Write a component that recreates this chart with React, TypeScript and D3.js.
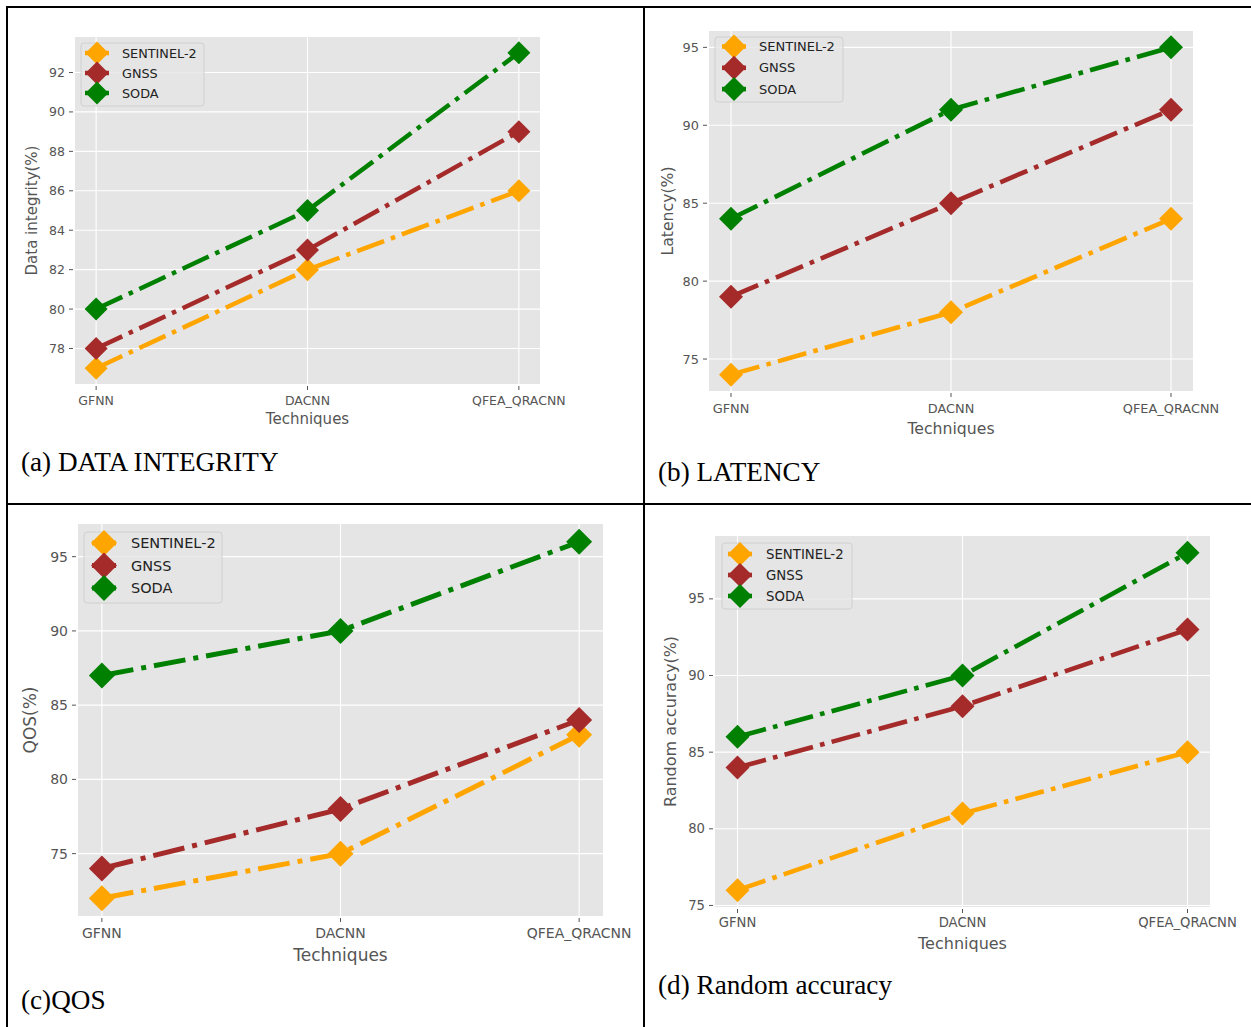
import React from 'react'
import * as d3 from 'd3'

// categories on the x axis, shared by every panel
const categories = ['GFNN', 'DACNN', 'QFEA_QRACNN']
const seriesNames = ['SENTINEL-2', 'GNSS', 'SODA']
const seriesColors = ['#FFA500', '#A52A2A', '#008000']

// (a) data integrity
const integritySentinel = [77, 82, 86]
const integrityGnss = [78, 83, 89]
const integritySoda = [80, 85, 93]
const integrityTicks = [78, 80, 82, 84, 86, 88, 90, 92]

// (b) latency
const latencySentinel = [74, 78, 84]
const latencyGnss = [79, 85, 91]
const latencySoda = [84, 91, 95]
const latencyTicks = [75, 80, 85, 90, 95]

// (c) QOS
const qosSentinel = [72, 75, 83]
const qosGnss = [74, 78, 84]
const qosSoda = [87, 90, 96]
const qosTicks = [75, 80, 85, 90, 95]

// (d) random accuracy
const accuracySentinel = [76, 81, 85]
const accuracyGnss = [84, 88, 93]
const accuracySoda = [86, 90, 98]
const accuracyTicks = [75, 80, 85, 90, 95]

const SANS = "'DejaVu Sans', Verdana, sans-serif"
const SERIF = "'Liberation Serif', 'Times New Roman', serif"

type Layout = {
  left: number
  right: number
  top: number
  bottom: number
  tickFont: number
  labelFont: number
  legendFont: number
  lw: number
  marker: number
  legend: { x: number; y: number; w: number; h: number; row0: number; gap: number; mx: number; tx: number }
  yLabelX: number
  xTickY: number
  xTitleY: number
  caption: { x: number; y: number; text: string }
}

function diamond(x: number, y: number, h: number) {
  return `M${x},${y - h}L${x + h},${y}L${x},${y + h}L${x - h},${y}Z`
}

function Panel({ series, ticks, yLabel, L }: { series: number[][]; ticks: number[]; yLabel: string; L: Layout }) {
  const all = series.flat()
  const [lo, hi] = d3.extent(all) as [number, number]
  const pad = (hi - lo) * 0.05
  const y = d3.scaleLinear().domain([lo - pad, hi + pad]).range([L.bottom, L.top])
  const x = d3.scalePoint<string>().domain(categories).range([L.left, L.right]).padding(0.1)
  const line = d3.line<number>().x((_, i) => x(categories[i])!).y((d) => y(d))
  const dash = [6.4, 1.6, 1, 1.6].map((v) => v * L.lw).join(',')
  const cy = (L.top + L.bottom) / 2

  return (
    <g>
      <rect x={L.left} y={L.top} width={L.right - L.left} height={L.bottom - L.top} fill="#E5E5E5" />
      {ticks.map((t) => (
        <g key={'y' + t}>
          <line x1={L.left} x2={L.right} y1={y(t)} y2={y(t)} stroke="#fff" strokeWidth={1.1} />
          <line x1={L.left - 2} x2={L.left - 6} y1={y(t)} y2={y(t)} stroke="#555" strokeWidth={1} />
          <text x={L.left - 10} y={y(t)} textAnchor="end" dominantBaseline="central" fontSize={L.tickFont} fill="#555" fontFamily={SANS}>
            {t}
          </text>
        </g>
      ))}
      {categories.map((c) => (
        <g key={c}>
          <line x1={x(c)} x2={x(c)} y1={L.top} y2={L.bottom} stroke="#fff" strokeWidth={1.1} />
          <line x1={x(c)} x2={x(c)} y1={L.bottom + 2} y2={L.bottom + 6} stroke="#555" strokeWidth={1} />
          <text x={x(c)} y={L.xTickY} textAnchor="middle" dominantBaseline="central" fontSize={L.tickFont} fill="#555" fontFamily={SANS}>
            {c}
          </text>
        </g>
      ))}
      <text x={(L.left + L.right) / 2} y={L.xTitleY} textAnchor="middle" dominantBaseline="central" fontSize={L.labelFont} fill="#555" fontFamily={SANS}>
        Techniques
      </text>
      <text
        transform={`translate(${L.yLabelX},${cy}) rotate(-90)`}
        textAnchor="middle"
        dominantBaseline="central"
        fontSize={L.labelFont}
        fill="#555"
        fontFamily={SANS}
      >
        {yLabel}
      </text>
      {series.map((s, k) => (
        <g key={seriesNames[k]}>
          <path d={line(s)!} fill="none" stroke={seriesColors[k]} strokeWidth={L.lw} strokeDasharray={dash} />
          {s.map((v, i) => (
            <path key={i} d={diamond(x(categories[i])!, y(v), L.marker)} fill={seriesColors[k]} />
          ))}
        </g>
      ))}
      <rect x={L.legend.x} y={L.legend.y} width={L.legend.w} height={L.legend.h} rx={3} fill="#E5E5E5" fillOpacity={0.8} stroke="#D0D0D0" strokeWidth={1} />
      {seriesNames.map((n, k) => {
        const ry = L.legend.row0 + k * L.legend.gap
        const mx = L.legend.mx
        return (
          <g key={n}>
            <line x1={mx - 12} x2={mx + 12} y1={ry} y2={ry} stroke={seriesColors[k]} strokeWidth={L.lw} />
            <path d={diamond(mx, ry, L.marker)} fill={seriesColors[k]} />
            <text x={L.legend.tx} y={ry} dominantBaseline="central" fontSize={L.legendFont} fill="#222" fontFamily={SANS}>
              {n}
            </text>
          </g>
        )
      })}
      <text x={L.caption.x} y={L.caption.y} fontSize={27.2} fill="#000" fontFamily={SERIF}>
        {L.caption.text}
      </text>
    </g>
  )
}

const layoutA: Layout = {
  left: 75, right: 540, top: 37, bottom: 384,
  tickFont: 12.5, labelFont: 15, legendFont: 12.8, lw: 4.5, marker: 11.5,
  legend: { x: 81, y: 43, w: 123, h: 63, row0: 53, gap: 20, mx: 97, tx: 122 },
  yLabelX: 32, xTickY: 400, xTitleY: 419,
  caption: { x: 21, y: 471, text: '(a) DATA INTEGRITY' },
}

const layoutB: Layout = {
  left: 709, right: 1193, top: 31, bottom: 391,
  tickFont: 12.9, labelFont: 15.7, legendFont: 13, lw: 4.6, marker: 12,
  legend: { x: 715, y: 37, w: 128, h: 65, row0: 46.5, gap: 21.3, mx: 734, tx: 759 },
  yLabelX: 667, xTickY: 408, xTitleY: 428,
  caption: { x: 658, y: 481, text: '(b) LATENCY' },
}

const layoutC: Layout = {
  left: 78, right: 603, top: 524, bottom: 916,
  tickFont: 14, labelFont: 17, legendFont: 14.5, lw: 5, marker: 13,
  legend: { x: 84, y: 532, w: 138, h: 71, row0: 543, gap: 22.5, mx: 104, tx: 131 },
  yLabelX: 30, xTickY: 933, xTitleY: 955,
  caption: { x: 21, y: 1009, text: '(c)QOS' },
}

const layoutD: Layout = {
  left: 715, right: 1210, top: 536, bottom: 907,
  tickFont: 13.2, labelFont: 16, legendFont: 13.3, lw: 4.6, marker: 12,
  legend: { x: 722, y: 543, w: 130, h: 66, row0: 554, gap: 21, mx: 740, tx: 766 },
  yLabelX: 670, xTickY: 922, xTitleY: 943,
  caption: { x: 658, y: 994, text: '(d) Random accuracy' },
}

export default function App() {
  if (typeof document !== 'undefined') document.body.style.margin = '0'
  const W = 1251
  const H = 1027
  return (
    <svg width={W} height={H} style={{ display: 'block', background: '#fff' }}>
      <rect width={W} height={H} fill="#fff" />
      <Panel series={[integritySentinel, integrityGnss, integritySoda]} ticks={integrityTicks} yLabel="Data integrity(%)" L={layoutA} />
      <Panel series={[latencySentinel, latencyGnss, latencySoda]} ticks={latencyTicks} yLabel="Latency(%)" L={layoutB} />
      <Panel series={[qosSentinel, qosGnss, qosSoda]} ticks={qosTicks} yLabel="QOS(%)" L={layoutC} />
      <Panel series={[accuracySentinel, accuracyGnss, accuracySoda]} ticks={accuracyTicks} yLabel="Random accuracy(%)" L={layoutD} />
      {/* table rules */}
      <line x1={7} x2={W} y1={7} y2={7} stroke="#000" strokeWidth={2} />
      <line x1={7} x2={W} y1={504} y2={504} stroke="#000" strokeWidth={2} />
      <line x1={7} x2={7} y1={6} y2={H} stroke="#000" strokeWidth={2} />
      <line x1={644} x2={644} y1={6} y2={H} stroke="#000" strokeWidth={2} />
    </svg>
  )
}
